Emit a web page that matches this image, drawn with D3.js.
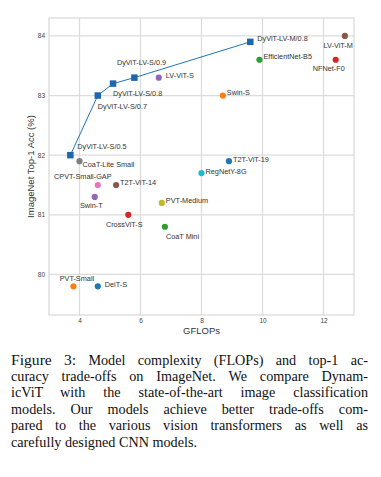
<!DOCTYPE html>
<html><head><meta charset="utf-8">
<script src="https://cdn.jsdelivr.net/npm/d3@7"></script>
<style>
html,body{margin:0;padding:0;background:#fff;}
svg{display:block;}
</style></head>
<body>
<svg id="chart" width="381" height="477"></svg>
<script>
// ---- data ----
const dyvitNames = ["DyViT-LV-S/0.5","DyViT-LV-S/0.7","DyViT-LV-S/0.8","DyViT-LV-S/0.9","DyViT-LV-M/0.8"];
const dyvitFlops = [3.7, 4.6, 5.1, 5.8, 9.6];
const dyvitAcc   = [82.0, 83.0, 83.2, 83.3, 83.9];

const modelNames = ["LV-ViT-S","CoaT-Lite Small","EfficientNet-B5","LV-ViT-M","NFNet-F0","Swin-S","T2T-ViT-19","RegNetY-8G","CPVT-Small-GAP","T2T-ViT-14","Swin-T","PVT-Medium","CrossViT-S","CoaT Mini","PVT-Small","DeiT-S"];
const modelFlops = [6.6, 4.0, 9.9, 12.7, 12.4, 8.7, 8.9, 8.0, 4.6, 5.2, 4.5, 6.7, 5.6, 6.8, 3.8, 4.6];
const modelAcc   = [83.3, 81.9, 83.6, 84.0, 83.6, 83.0, 81.9, 81.7, 81.5, 81.5, 81.3, 81.2, 81.0, 80.8, 79.8, 79.8];
const modelColors = ["#9467bd","#7f7f7f","#2ca02c","#8c564b","#d62728","#ff7f0e","#1f77b4","#17becf","#e377c2","#8c564b","#9467bd","#bcbd22","#d62728","#2ca02c","#ff7f0e","#1f77b4"];

const xTicks = [4, 6, 8, 10, 12];
const yTicks = [80, 81, 82, 83, 84];

const captionLabel = "Figure 3:";
const captionLines = [
  "Model complexity (FLOPs) and top-1 ac-",
  "curacy trade-offs on ImageNet. We compare Dynam-",
  "icViT with the state-of-the-art image classification",
  "models. Our models achieve better trade-offs com-",
  "pared to the various vision transformers as well as",
  "carefully designed CNN models."
];

// ---- label layout (anchor, dx, dy in px) ----
const dyvitLabelPlace = [["start",7,-9],["start",0,11],["start",0,10],["start",-17.5,-15],["start",7,-3]];
const modelLabelPlace = [["start",7,-2],["start",3,3],["start",4,-3],["end",8,10],["middle",-7,9],["start",4,-3],["start",4,-2],["start",4,-2],["middle",-15,-8],["start",4,-2],["middle",-3.5,9],["start",4,-2],["middle",-4,10],["start",1,10],["middle",3.5,-8],["start",7,-2]];

// ---- chart ----
const svg = d3.select("#chart");
const L = 49, T = 18, R = 354, B = 315;
const x = d3.scaleLinear().domain([3.0, 13.0]).range([L, R]);
const y = d3.scaleLinear().domain([79.32, 84.3]).range([B, T]);

const g = svg.append("g");
g.append("g").selectAll("line").data(xTicks).join("line")
  .attr("x1", d => x(d)).attr("x2", d => x(d)).attr("y1", T).attr("y2", B)
  .attr("stroke", "#dcdcdc").attr("stroke-width", 1.3);
g.append("g").selectAll("line").data(yTicks).join("line")
  .attr("y1", d => y(d)).attr("y2", d => y(d)).attr("x1", L).attr("x2", R)
  .attr("stroke", "#dcdcdc").attr("stroke-width", 1.3);
g.append("rect").attr("x", L).attr("y", T).attr("width", R - L).attr("height", B - T)
  .attr("fill", "none").attr("stroke", "#d0d0d0").attr("stroke-width", 1);

const xAxis = d3.axisBottom(x).tickValues(xTicks).tickSize(0).tickPadding(3).tickFormat(d3.format("d"));
const yAxis = d3.axisLeft(y).tickValues(yTicks).tickSize(0).tickPadding(4).tickFormat(d3.format("d"));
const gx = svg.append("g").attr("transform", `translate(0,${B})`).call(xAxis);
const gy = svg.append("g").attr("transform", `translate(${L},0)`).call(yAxis);
[gx, gy].forEach(a => {
  a.select(".domain").remove();
  a.selectAll("text").attr("font-family", "Liberation Sans, Arial, sans-serif").attr("font-size", 6.5).attr("fill", "#444");
});

svg.append("text").attr("x", (L + R) / 2).attr("y", 334)
  .attr("text-anchor", "middle").attr("font-family", "Liberation Sans, Arial, sans-serif")
  .attr("font-size", 9.5).attr("fill", "#333").text("GFLOPs");
svg.append("text").attr("transform", `translate(34,${(T + B) / 2}) rotate(-90)`)
  .attr("text-anchor", "middle").attr("font-family", "Liberation Sans, Arial, sans-serif")
  .attr("font-size", 9.5).attr("fill", "#333").text("ImageNet Top-1 Acc (%)");

const models = modelNames.map((n, i) => ({n, fx: modelFlops[i], a: modelAcc[i], c: modelColors[i], p: modelLabelPlace[i]}));
svg.append("g").selectAll("circle").data(models).join("circle")
  .attr("cx", d => x(d.fx)).attr("cy", d => y(d.a)).attr("r", 3.1)
  .attr("fill", d => d.c);
svg.append("g").selectAll("text").data(models).join("text")
  .attr("x", d => x(d.fx) + d.p[1]).attr("y", d => y(d.a) + d.p[2])
  .attr("text-anchor", d => d.p[0]).attr("dominant-baseline", "central")
  .attr("font-family", "Liberation Sans, Arial, sans-serif").attr("font-size", 7.3).attr("fill", "#333")
  .text(d => d.n);

const dy = dyvitNames.map((n, i) => ({n, fx: dyvitFlops[i], a: dyvitAcc[i], p: dyvitLabelPlace[i]}));
svg.append("path").datum(dy)
  .attr("d", d3.line().x(d => x(d.fx)).y(d => y(d.a)))
  .attr("fill", "none").attr("stroke", "#1f77b4").attr("stroke-width", 1);
const s = 6.5;
svg.append("g").selectAll("rect").data(dy).join("rect")
  .attr("x", d => x(d.fx) - s / 2).attr("y", d => y(d.a) - s / 2)
  .attr("width", s).attr("height", s).attr("fill", "#1f67a8");
svg.append("g").selectAll("text").data(dy).join("text")
  .attr("x", d => x(d.fx) + d.p[1]).attr("y", d => y(d.a) + d.p[2])
  .attr("text-anchor", d => d.p[0]).attr("dominant-baseline", "central")
  .attr("font-family", "Liberation Sans, Arial, sans-serif").attr("font-size", 7.3).attr("fill", "#333")
  .text(d => d.n);

// caption (justified)
const capX0 = 11, capX1 = 368, capY0 = 364.5, capLH = 16.4;
const bigK = 1.1;
const cap = svg.append("g").attr("font-family", "Liberation Serif, Times New Roman, serif").attr("fill", "#111");
// word lists: [text, isLabel]
const wordLines = captionLines.map((l, i) => {
  const w = l.split(" ").map(t => [t, false]);
  return i === 0 ? captionLabel.split(" ").map(t => [t, true]).concat(w) : w;
});
// fit font size so every justified line keeps at least a shrunk space
const probe = cap.append("text").attr("font-size", 10);
let fs = 14.2;
wordLines.slice(0, -1).forEach(ws => {
  let w10 = 0;
  ws.forEach(([t, big]) => { probe.attr("font-size", big ? 10 * bigK : 10).text(t); w10 += probe.node().getComputedTextLength(); });
  const need = w10 / 10 + (ws.length - 1) * 0.18; // width per px of font size
  fs = Math.min(fs, (capX1 - capX0) / need);
});
probe.remove();
wordLines.forEach((ws, li) => {
  const yy = capY0 + li * capLH;
  const t = cap.append("text").attr("y", yy).attr("font-size", fs);
  const spans = ws.map(([w, big]) => t.append("tspan").attr("font-size", big ? fs * bigK : fs).text(w));
  const widths = spans.map(sp => sp.node().getComputedTextLength());
  const total = d3.sum(widths);
  const last = li === wordLines.length - 1;
  const gap = last ? fs * 0.25 : (capX1 - capX0 - total) / (ws.length - 1);
  let cx = capX0;
  spans.forEach((sp, i) => { sp.attr("x", cx); cx += widths[i] + gap; });
});
</script>
</body></html>
